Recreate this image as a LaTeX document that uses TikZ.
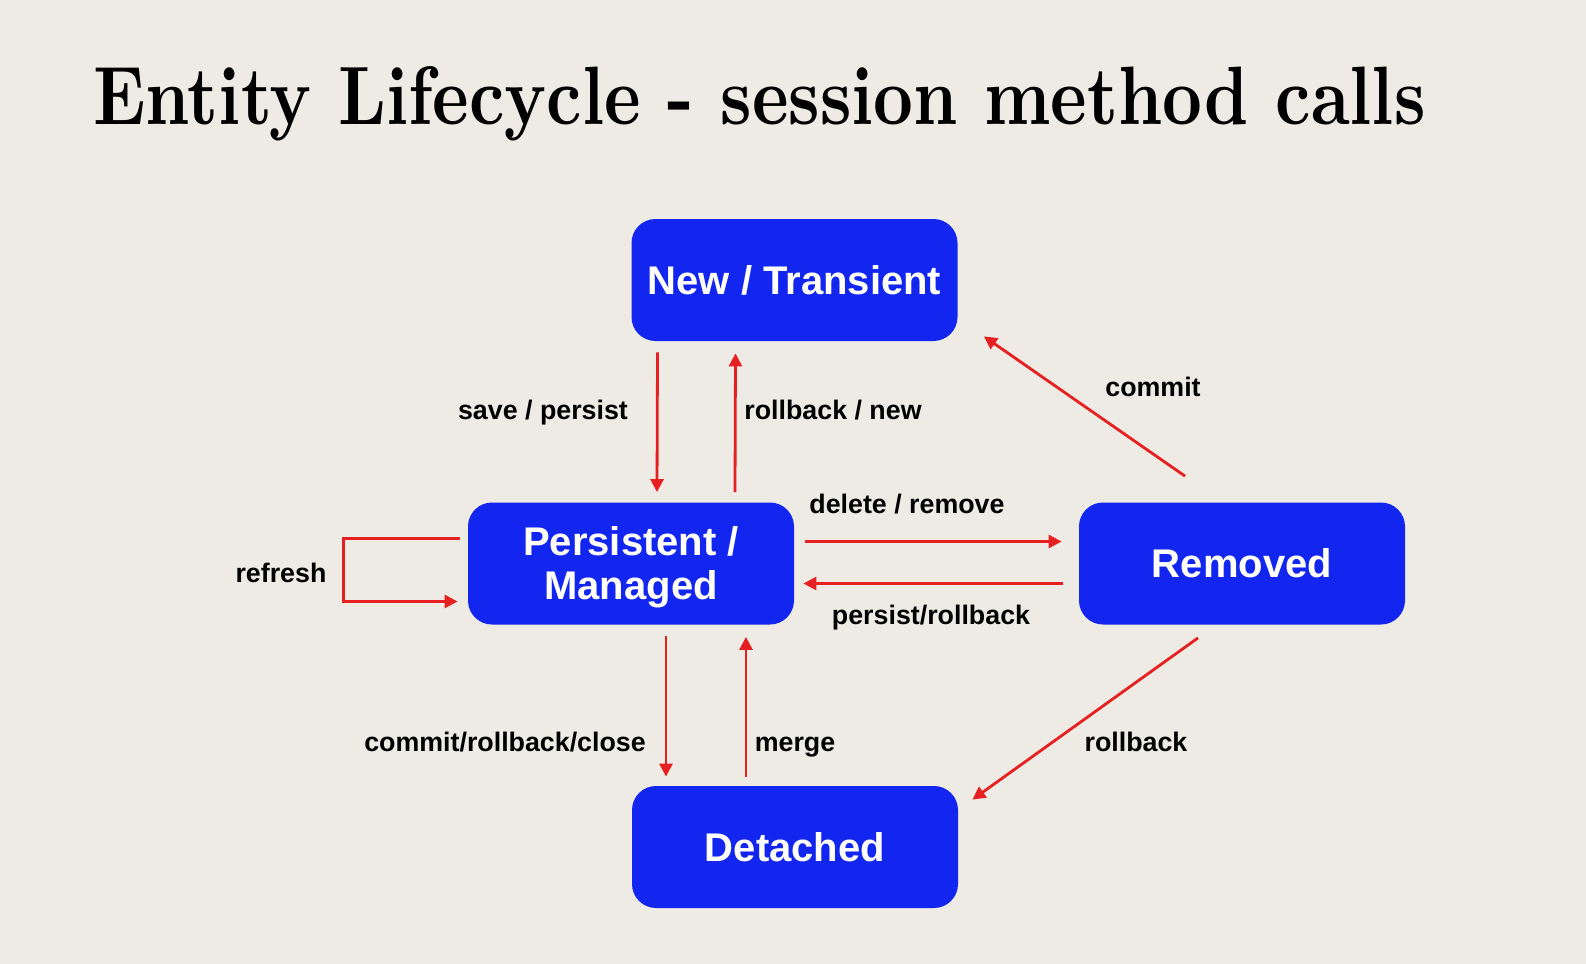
\documentclass[tikz,border=0pt]{standalone}
\usepackage{fontspec}
\newfontfamily\labfont{Liberation Sans}
\usetikzlibrary{calc,arrows.meta}
\definecolor{paper}{HTML}{EEEBE5}
\definecolor{stateblue}{HTML}{1226F0}
\definecolor{linkred}{HTML}{E62020}

\begin{document}
\begin{tikzpicture}[x=0.5pt,y=-0.5pt,
  state/.style={rectangle, rounded corners=12pt, fill=stateblue, text=white,
    minimum width=163pt, minimum height=61pt, inner sep=0pt, align=center,
    font=\labfont\bfseries\fontsize{20}{22}\selectfont},
  lbl/.style={font=\labfont\bfseries\fontsize{13.4}{16}\selectfont, text=black,
    inner sep=0pt, text height=0.75em, text depth=0.21em},
  trans/.style={draw=linkred, line width=1.4pt, -{Triangle[length=6.5pt,width=6.5pt]}}]

% page background
\fill[paper] (0,0) rectangle (1586,964);
\useasboundingbox (0,0) rectangle (1586,964);

% heading
\node[anchor=base west, inner sep=0pt] (title) at (93,124)
  {\resizebox{666pt}{29pt}{\bfseries Entity Lifecycle - session method calls}};

% states
\node[state] (nt) at (794.5,280)   {New / Transient};
\node[state, text depth=-1.5pt] (pm) at (631,563.5) {Persistent /\\Managed};
\node[state] (rm) at (1242,563.5)  {Removed};
\node[state] (dt) at (795,847)     {Detached};

% transitions
\draw[trans] ($(nt.south)+(-137,11)$) -- ($(pm.north)+(26,-10)$);
\draw[trans] ($(pm.north)+(104,-10)$) -- ($(nt.south)+(-59,12)$);
\draw[trans] ($(rm.north)+(-57,-26)$) -- ($(nt.south east)+(26,-5)$);
\draw[trans] ($(rm.south)+(-44,13)$) -- ($(dt.north east)+(14,14)$);
\draw[trans] ($(pm.east)+(11,-22)$) -- ($(rm.west)+(-17,-22)$);
\draw[trans] ($(rm.west)+(-16,20)$) -- ($(pm.east)+(9,20)$);
\draw[trans] ($(pm.west)+(-8,-25)$) -- ++(-116,0) |- ($(pm.west)+(-10,38)$);
\draw[trans] ($(pm.south)+(35,11)$) -- ($(dt.north)+(-129,-9)$);
\draw[trans] ($(dt.north)+(-49,-9)$) -- ($(pm.south)+(115,12)$);

% transition labels
\node[lbl] (lsave)    at (543,414)  {save / persist};
\node[lbl] (lrbnew)   at (833,414)  {rollback / new};
\node[lbl] (lcommit)  at (1153,391) {commit};
\node[lbl] (ldelete)  at (907,508)  {delete / remove};
\node[lbl] (lpersist) at (931,619)  {persist/rollback};
\node[lbl] (lrefresh) at (281,577)  {refresh};
\node[lbl] (lclose)   at (505,746)  {commit/rollback/close};
\node[lbl] (lmerge)   at (795,746)  {merge};
\node[lbl] (lrb)      at (1136,746) {rollback};
\end{tikzpicture}
\end{document}
